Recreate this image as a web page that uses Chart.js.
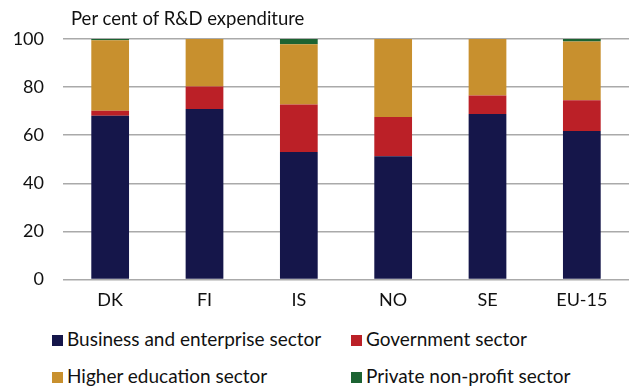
<!DOCTYPE html>
<html>
<head>
<meta charset="utf-8">
<script src="https://cdn.jsdelivr.net/npm/chart.js@4/dist/chart.umd.min.js"></script>
<style>
  body { margin: 0; background: #fff; font-family: Lato, 'Open Sans', sans-serif; color: #111; }
  #wrap { position: relative; width: 629px; height: 386px; }
  #title { position: absolute; left: 71px; top: 7px; font-size: 18.5px; white-space: nowrap; }
  #legend { position: absolute; left: 0; top: 327px; width: 629px; font-size: 19px; }
  .item { position: absolute; white-space: nowrap; line-height: 24px; }
  .box { display: inline-block; width: 11px; height: 11px; margin-right: 4px; vertical-align: 0px; }
</style>
</head>
<body>
<div id="wrap">
  <canvas id="chart" width="629" height="320" style="position:absolute;left:0;top:0;"></canvas>
  <div id="title">Per cent of R&amp;D expenditure</div>
  <div id="legend"></div>
</div>
<script>
var countries = ['DK', 'FI', 'IS', 'NO', 'SE', 'EU-15'];
var business = [68.1, 70.9, 53.0, 51.2, 68.8, 61.7];
var government = [2.1, 9.4, 19.8, 16.4, 7.7, 12.8];
var higherEd = [29.3, 19.7, 25.0, 32.4, 23.5, 24.5];
var privateNP = [0.5, 0, 2.2, 0, 0, 1.0];
var yTicks = [0, 20, 40, 60, 80, 100];

var seriesNames = ['Business and enterprise sector', 'Government sector', 'Higher education sector', 'Private non-profit sector'];
var seriesColors = ['#15164a', '#bb2027', '#c8902e', '#1c6332'];
var seriesData = [business, government, higherEd, privateNP];

var datasets = [];
for (var i = 0; i < seriesData.length; i++) {
  datasets.push({
    label: seriesNames[i],
    data: seriesData[i],
    backgroundColor: seriesColors[i],
    borderWidth: 0,
    barPercentage: 0.4,
    categoryPercentage: 1.0
  });
}

var fontFam = "Lato, 'Open Sans', sans-serif";

new Chart(document.getElementById('chart'), {
  type: 'bar',
  data: { labels: countries, datasets: datasets },
  options: {
    responsive: false,
    animation: false,
    layout: { padding: { top: 39, left: 0, right: 0, bottom: 0 } },
    plugins: { legend: { display: false }, tooltip: { enabled: false } },
    scales: {
      x: {
        stacked: true,
        grid: { display: false, drawTicks: false },
        border: { display: false },
        ticks: { color: '#111', font: { family: fontFam, size: 18 }, padding: 10 },
        afterFit: function (s) { s.height = 40.5; }
      },
      y: {
        stacked: true,
        min: 0,
        max: 100,
        afterBuildTicks: function (s) { s.ticks = yTicks.map(function (v) { return { value: v }; }); },
        grid: { color: '#aaaaaa', lineWidth: 1.5, drawTicks: false },
        border: { display: false },
        ticks: { color: '#111', font: { family: fontFam, size: 18 }, padding: 19 },
        afterFit: function (s) { s.width = 63; }
      }
    }
  }
});

// legend in two columns
var legend = document.getElementById('legend');
var pos = [[52, 0], [351, 0], [52, 37], [351, 37]];
for (var j = 0; j < seriesNames.length; j++) {
  var d = document.createElement('div');
  d.className = 'item';
  d.style.left = pos[j][0] + 'px';
  d.style.top = pos[j][1] + 'px';
  d.innerHTML = '<span class="box" style="background:' + seriesColors[j] + '"></span>' + seriesNames[j];
  legend.appendChild(d);
}
</script>
</body>
</html>
